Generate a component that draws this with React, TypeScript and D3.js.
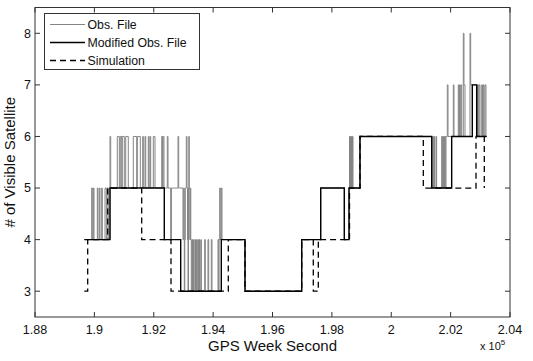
import * as d3 from 'd3'

// GPS week second vs. number of visible satellites
const xTickValues = [188000, 190000, 192000, 194000, 196000, 198000, 200000, 202000, 204000]
const xTickLabels = ['1.88', '1.9', '1.92', '1.94', '1.96', '1.98', '2', '2.02', '2.04']
const yTickValues = [3, 4, 5, 6, 7, 8]

// [time, level] step points (level holds until next time)
const obsFile: [number, number][] = [
  [189661, 4],
  [189910, 5], [189930, 4], [189964, 5], [189987, 4], [190099, 5], [190122, 4],
  [190166, 5], [190190, 4], [190247, 5], [190267, 4], [190358, 5], [190402, 4],
  [190425, 5], [190469, 4],
  [190526, 6], [190550, 5], [190772, 6], [190840, 5], [190873, 6], [190920, 5],
  [190941, 6], [191008, 5], [191055, 6], [191143, 5], [191311, 6], [191426, 5],
  [191446, 6], [191547, 5], [191628, 6], [191648, 5], [191705, 6], [191729, 5],
  [191816, 6], [191840, 5], [191874, 6], [191897, 5], [191985, 6], [192042, 5],
  [192268, 6], [192298, 5], [192312, 6], [192345, 5], [192456, 6], [192480, 5],
  [192571, 4], [192595, 5], [192817, 6], [192840, 5],
  [192985, 4], [193009, 5], [193029, 3], [193046, 4], [193063, 5], [193096, 6],
  [193120, 5], [193137, 4], [193154, 3], [193171, 5], [193181, 6], [193197, 5],
  [193214, 4], [193231, 5], [193248, 4], [193265, 3],
  [193288, 4], [193305, 3], [193339, 4], [193356, 3], [193389, 4], [193406, 3],
  [193440, 4], [193464, 3], [193490, 4], [193507, 3], [193541, 4], [193558, 3],
  [193592, 4], [193602, 3], [193716, 4], [193736, 3], [193827, 4], [193851, 3],
  [193939, 4], [193962, 3], [194164, 4], [194188, 3],
  [194198, 4], [194222, 5], [194242, 4], [194275, 5], [194299, 4],
  [195074, 3], [196984, 4], [197624, 5],
  [198419, 4], [198577, 5], [198594, 6], [198610, 5], [198627, 6], [198644, 5],
  [198661, 6], [198678, 5], [198695, 6], [198712, 5],
  [198947, 6],
  [201363, 5], [201396, 6], [201416, 5], [201440, 6], [201460, 5], [201507, 6], [201528, 5],
  [201699, 6], [201720, 5], [201737, 6], [201753, 5], [201770, 6], [201787, 5],
  [201804, 6], [201821, 5], [201844, 6],
  [201888, 7], [201912, 6], [202090, 7], [202114, 6],
  [202258, 7], [202282, 6], [202300, 7], [202320, 6], [202345, 7], [202373, 6],
  [202427, 8], [202450, 7], [202484, 6], [202653, 8], [202676, 7],
  [202878, 6], [202905, 7], [202932, 6], [202956, 7], [202989, 6], [203047, 7],
  [203074, 6], [203101, 7], [203124, 6], [203158, 7], [203191, 6], [203215, 6],
]

const modifiedObs: [number, number][] = [
  [189661, 4], [190526, 5], [192355, 4], [192908, 3], [194275, 4], [195074, 3],
  [196984, 4], [197624, 5], [198419, 4], [198577, 5], [198947, 6], [201363, 5],
  [202036, 6], [202730, 7], [202878, 6], [203215, 6],
]

const simulation: [number, number][] = [
  [189661, 3], [189775, 4], [190449, 5], [191594, 4], [192581, 3], [194511, 4],
  [195074, 3], [196984, 4], [197374, 3], [197543, 4], [198594, 5], [198947, 6],
  [201080, 5], [202855, 6], [203134, 5],
]

const legendItems = ['Obs. File', 'Modified Obs. File', 'Simulation']

const width = 533
const height = 361
const margin = { top: 7.5, right: 23, bottom: 44, left: 35 }
const font = "'Liberation Sans', Arial, Helvetica, sans-serif"

export default function App() {
  const x = d3.scaleLinear().domain([188000, 204000]).range([margin.left, width - margin.right])
  const y = d3.scaleLinear().domain([2.5, 8.5]).range([height - margin.bottom, margin.top])

  const line = d3.line<[number, number]>()
    .x(d => x(d[0]))
    .y(d => y(d[1]))
    .curve(d3.curveStepAfter)

  const x0 = x.range()[0]
  const x1 = x.range()[1]
  const y0 = y.range()[0]
  const y1 = y.range()[1]
  const tickLen = 5
  const axisColor = '#333'

  const styles = [
    { stroke: '#858585', width: 1, dash: undefined },
    { stroke: '#000', width: 1.4, dash: undefined },
    { stroke: '#000', width: 1.3, dash: '6,4' },
  ]

  return (
    <div style={{ position: 'absolute', left: 0, top: 0 }}>
      <svg width={width} height={height} style={{ display: 'block', background: '#fff' }}>
        <rect x={0} y={0} width={width} height={height} fill="#fff" />

        {/* series */}
        <path d={line(obsFile) || ''} fill="none" stroke={styles[0].stroke} strokeWidth={styles[0].width} />
        <path d={line(modifiedObs) || ''} fill="none" stroke={styles[1].stroke} strokeWidth={styles[1].width} />
        <path d={line(simulation) || ''} fill="none" stroke={styles[2].stroke} strokeWidth={styles[2].width} strokeDasharray={styles[2].dash} />

        {/* frame */}
        <rect x={x0} y={y1} width={x1 - x0} height={y0 - y1} fill="none" stroke={axisColor} strokeWidth={1} />

        {/* x ticks */}
        {xTickValues.map((v, i) => (
          <g key={'xt' + v}>
            <line x1={x(v)} x2={x(v)} y1={y0} y2={y0 - tickLen} stroke={axisColor} />
            <line x1={x(v)} x2={x(v)} y1={y1} y2={y1 + tickLen} stroke={axisColor} />
            <text x={x(v)} y={y0 + 17} textAnchor="middle" fontFamily={font} fontSize={12.5} fill="#111">
              {xTickLabels[i]}
            </text>
          </g>
        ))}

        {/* y ticks */}
        {yTickValues.map(v => (
          <g key={'yt' + v}>
            <line x1={x0} x2={x0 + tickLen} y1={y(v)} y2={y(v)} stroke={axisColor} />
            <line x1={x1} x2={x1 - tickLen} y1={y(v)} y2={y(v)} stroke={axisColor} />
            <text x={x0 - 4} y={y(v)} dy="0.35em" textAnchor="end" fontFamily={font} fontSize={12.5} fill="#111">
              {v}
            </text>
          </g>
        ))}

        {/* axis titles */}
        <text x={(x0 + x1) / 2} y={351} textAnchor="middle" fontFamily={font} fontSize={15} fill="#111">
          GPS Week Second
        </text>
        <text x={480} y={350} fontFamily={font} fontSize={11} fill="#111">
          x 10
          <tspan dy={-5} fontSize={8}>5</tspan>
        </text>
        <text
          transform={`translate(15,${(y0 + y1) / 2}) rotate(-90)`}
          textAnchor="middle"
          fontFamily={font}
          fontSize={15}
          fill="#111"
        >
          # of Visible Satellite
        </text>

        {/* legend */}
        <g>
          <rect x={44.5} y={13.5} width={155} height={56} fill="#fff" stroke={axisColor} strokeWidth={1} />
          {legendItems.map((name, i) => {
            const ly = 24.5 + i * 18
            return (
              <g key={name}>
                <line x1={50} x2={85} y1={ly} y2={ly} stroke={styles[i].stroke}
                  strokeWidth={styles[i].width} strokeDasharray={styles[i].dash} />
                <text x={87.5} y={ly} dy="0.35em" fontFamily={font} fontSize={12.3} fill="#111">
                  {name}
                </text>
              </g>
            )
          })}
        </g>
      </svg>
    </div>
  )
}
